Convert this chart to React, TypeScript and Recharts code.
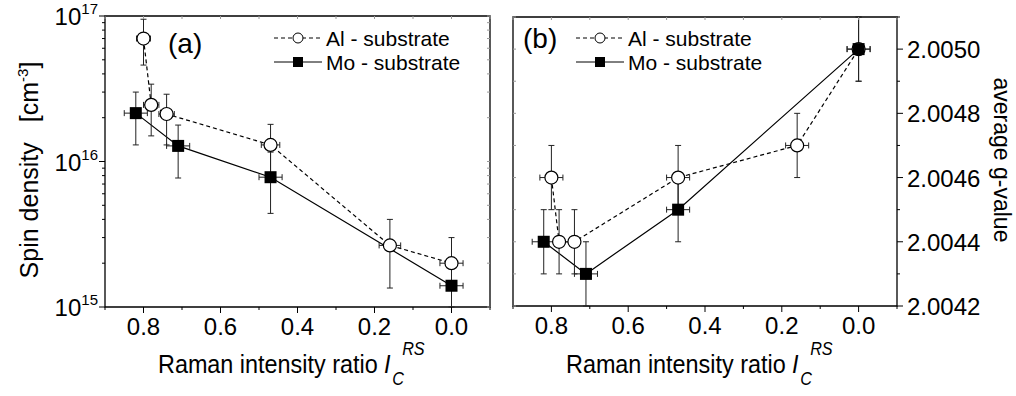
import React from "react";
import {
    ComposedChart,
    Line,
    Scatter,
    XAxis,
    YAxis,
    ErrorBar,
    ReferenceArea,
    Legend,
    Label,
} from "recharts";

// x values (Raman intensity ratio I_C^RS)
const alRatio = [0.8, 0.78, 0.74, 0.47, 0.16, 0.0];
const moRatio = [0.82, 0.71, 0.47, 0.0];
const alRatioErr = [0.018, 0.02, 0.02, 0.024, 0.028, 0.03];
const moRatioErr = [0.03, 0.03, 0.03, 0.03];
const alRatioErrG = [0.03, 0, 0, 0.03, 0.03, 0.03];

// panel (a): spin density [cm^-3]
const alSpin = [7.0e16, 2.45e16, 2.12e16, 1.3e16, 2.65e15, 2.0e15];
const alSpinLow = [4.6e16, 1.5e16, 1.3e16, 8.0e15, 1.35e15, 1.3e15];
const alSpinHigh = [9.5e16, 3.4e16, 2.9e16, 1.8e16, 4.0e15, 3.0e15];
const moSpin = [2.15e16, 1.28e16, 7.8e15, 1.4e15];
const moSpinLow = [1.3e16, 7.7e15, 4.4e15, 1.0e15];
const moSpinHigh = [3.0e16, 1.78e16, 1.16e16, 1.9e15];

// panel (b): average g-value
const alG = [2.0046, 2.0044, 2.0044, 2.0046, 2.0047, 2.005];
const alGErr = [0.0001, 0.0001, 0.0001, 0.0001, 0.0001, 0.0001];
const moG = [2.0044, 2.0043, 2.0045, 2.005];
const moGErr = [0.0001, 0.0001, 0.0001, 0.0001];

// ticks
const ratioTicks = [-0.1, 0, 0.1, 0.2, 0.3, 0.4, 0.5, 0.6, 0.7, 0.8, 0.9];
const spinTicks = [
    1e15, 2e15, 3e15, 4e15, 5e15, 6e15, 7e15, 8e15, 9e15,
    1e16, 2e16, 3e16, 4e16, 5e16, 6e16, 7e16, 8e16, 9e16, 1e17,
];
const gTicks = [2.0042, 2.0043, 2.0044, 2.0045, 2.0046, 2.0047, 2.0048, 2.0049, 2.005, 2.0051];

const seriesNames = ["Al - substrate", "Mo - substrate"];

const alSpinRows = alRatio.map((x, i) => ({
    x,
    y: alSpin[i],
    xErr: alRatioErr[i],
    yErr: [alSpin[i] - alSpinLow[i], alSpinHigh[i] - alSpin[i]],
}));
const moSpinRows = moRatio.map((x, i) => ({
    x,
    y: moSpin[i],
    xErr: moRatioErr[i],
    yErr: [moSpin[i] - moSpinLow[i], moSpinHigh[i] - moSpin[i]],
}));
const alGRows = alRatio.map((x, i) => ({ x, y: alG[i], xErr: alRatioErrG[i], yErr: alGErr[i] }));
const moGRows = moRatio.map((x, i) => ({ x, y: moG[i], xErr: moRatioErr[i], yErr: moGErr[i] }));

const FONT = "'Liberation Sans', Arial, sans-serif";

const openCircle = (p: any) => (
    <circle cx={p.cx} cy={p.cy} r={6.5} fill="#fff" stroke="#000" strokeWidth={1.2} />
);
const filledSquare = (p: any) => (
    <rect x={p.cx - 6} y={p.cy - 6} width={12} height={12} fill="#000" />
);

const makeRatioTick = (plotH: number) => (props: any) => {
    const { x, y, payload } = props;
    const v = payload.value;
    const major = Math.round(v * 10) % 2 === 0;
    return (
        <g>
            <line x1={x} y1={y} x2={x} y2={y + (major ? 6 : 3)} stroke="#000" />
            <line x1={x} y1={y - plotH} x2={x} y2={y - plotH + 3} stroke="#999" />
            {major && (
                <text x={x} y={y + 28} textAnchor="middle" fontSize={24} fill="#000" fontFamily={FONT}>
                    {v.toFixed(1)}
                </text>
            )}
        </g>
    );
};

const SpinTick = (props: any) => {
    const { x, y, payload } = props;
    const exp = Math.log10(payload.value);
    const major = Math.abs(exp - Math.round(exp)) < 1e-6;
    return (
        <g>
            <line x1={x} y1={y} x2={x - (major ? 6 : 3)} y2={y} stroke="#000" />
            <line x1={x + 385} y1={y} x2={x + 382} y2={y} stroke="#999" />
            {major && (
                <text x={x - 7} y={y + 9} textAnchor="end" fontSize={24} fill="#000" fontFamily={FONT}>
                    10
                    <tspan dy={-11} fontSize={15}>
                        {Math.round(exp)}
                    </tspan>
                </text>
            )}
        </g>
    );
};

const GTick = (props: any) => {
    const { x, y, payload } = props;
    const v = payload.value;
    const major = Math.round(v * 1e4) % 2 === 0;
    return (
        <g>
            <line x1={x} y1={y} x2={x + (major ? 6 : 3)} y2={y} stroke="#000" />
            <line x1={x - 384} y1={y} x2={x - 381} y2={y} stroke="#999" />
            {major && (
                <text x={x + 10} y={y + 9} textAnchor="start" fontSize={24} fill="#000" fontFamily={FONT}>
                    {v.toFixed(4)}
                </text>
            )}
        </g>
    );
};

const makeRatioTitle = (x0: number) => () => (
    <text
        x={x0}
        y={373}
        fontSize={26}
        fill="#000"
        fontFamily={FONT}
        transform={`translate(${x0},373) scale(0.9,1) translate(${-x0},-373)`}
    >
        Raman intensity ratio
        <tspan dx={7} fontStyle="italic">I</tspan>
        <tspan dx={2} dy={12} fontSize={18} fontStyle="italic">C</tspan>
        <tspan dx={-2} dy={-30} fontSize={18} fontStyle="italic">RS</tspan>
    </text>
);

const spinTitle = () => (
    <text
        x={38}
        y={170}
        transform="rotate(-90, 38, 170)"
        textAnchor="middle"
        fontSize={25}
        fill="#000"
        fontFamily={FONT}
    >
        Spin density
        <tspan dx={20}>[cm</tspan>
        <tspan dy={-10} fontSize={15}>-3</tspan>
        <tspan dy={10}>]</tspan>
    </text>
);

const gTitle = () => (
    <text
        x={494}
        y={160}
        transform="rotate(90, 494, 160)"
        textAnchor="middle"
        fontSize={23}
        fill="#000"
        fontFamily={FONT}
    >
        average g-value
    </text>
);

const makeLegend = (w: number, tag: string, tagX: number, tagY: number, x0: number) => () => (
    <svg width={w} height={396} style={{ position: "absolute", left: 0, top: 0, fontFamily: FONT }}>
        <text x={tagX} y={tagY} fontSize={28} fill="#000">
            {tag}
        </text>
        <line x1={x0} y1={38} x2={x0 + 48} y2={38} stroke="#000" strokeDasharray="4 3" />
        <circle cx={x0 + 24} cy={38} r={5} fill="#fff" stroke="#000" />
        <text x={x0 + 52} y={46} fontSize={21} fill="#000">
            {seriesNames[0]}
        </text>
        <line x1={x0} y1={62} x2={x0 + 48} y2={62} stroke="#000" />
        <rect x={x0 + 19} y={57} width={10} height={10} fill="#000" />
        <text x={x0 + 52} y={70} fontSize={21} fill="#000">
            {seriesNames[1]}
        </text>
    </svg>
);

export default function App() {
    return (
        <div
            style={{
                position: "absolute",
                left: 0,
                top: 0,
                width: 1016,
                height: 396,
                background: "#fff",
                fontFamily: FONT,
            }}
        >
            <div style={{ position: "absolute", left: 0, top: 0 }}>
                <ComposedChart
                    width={500}
                    height={396}
                    margin={{ top: 16, right: 10, bottom: 0, left: 0 }}
                >
                    <XAxis
                        type="number"
                        dataKey="x"
                        domain={[-0.1, 0.9]}
                        reversed
                        allowDataOverflow
                        ticks={ratioTicks}
                        interval={0}
                        tickSize={0}
                        tickMargin={0}
                        axisLine={false}
                        tickLine={false}
                        tick={makeRatioTick(291)}
                        height={89}
                    >
                        <Label content={makeRatioTitle(158)} />
                    </XAxis>
                    <YAxis
                        type="number"
                        scale="log"
                        domain={[1e15, 1e17]}
                        allowDataOverflow
                        ticks={spinTicks}
                        interval={0}
                        tickSize={0}
                        tickMargin={0}
                        axisLine={false}
                        tickLine={false}
                        tick={SpinTick}
                        width={105}
                    >
                        <Label content={spinTitle} />
                    </YAxis>
                    <ReferenceArea
                        x1={0.9}
                        x2={-0.1}
                        y1={1e15}
                        y2={1e17}
                        fill="none"
                        stroke="#000"
                        strokeWidth={1.3}
                        ifOverflow="visible"
                    />
                    <Line
                        data={alSpinRows}
                        dataKey="y"
                        type="linear"
                        stroke="#000"
                        strokeWidth={1.2}
                        strokeDasharray="4 3"
                        dot={false}
                        activeDot={false}
                        isAnimationActive={false}
                    />
                    <Line
                        data={moSpinRows}
                        dataKey="y"
                        type="linear"
                        stroke="#000"
                        strokeWidth={1.2}
                        dot={false}
                        activeDot={false}
                        isAnimationActive={false}
                    />
                    <Scatter data={alSpinRows} dataKey="y" shape={openCircle} isAnimationActive={false}>
                        <ErrorBar dataKey="yErr" direction="y" width={3} stroke="#222" strokeWidth={1} />
                        <ErrorBar dataKey="xErr" direction="x" width={3} stroke="#222" strokeWidth={1} />
                    </Scatter>
                    <Scatter data={moSpinRows} dataKey="y" shape={filledSquare} isAnimationActive={false}>
                        <ErrorBar dataKey="yErr" direction="y" width={3} stroke="#222" strokeWidth={1} />
                        <ErrorBar dataKey="xErr" direction="x" width={3} stroke="#222" strokeWidth={1} />
                    </Scatter>
                    <Legend
                        layout="vertical"
                        verticalAlign="middle"
                        align="center"
                        content={makeLegend(500, "(a)", 168, 53, 274)}
                        wrapperStyle={{ left: 0, top: 0, width: 500, height: 396, pointerEvents: "none" }}
                    />
                </ComposedChart>
            </div>
            <div style={{ position: "absolute", left: 500, top: 0 }}>
                <ComposedChart
                    width={516}
                    height={396}
                    margin={{ top: 17, right: 0, bottom: 0, left: 13 }}
                >
                    <XAxis
                        type="number"
                        dataKey="x"
                        domain={[-0.1, 0.9]}
                        reversed
                        allowDataOverflow
                        ticks={ratioTicks}
                        interval={0}
                        tickSize={0}
                        tickMargin={0}
                        axisLine={false}
                        tickLine={false}
                        tick={makeRatioTick(289)}
                        height={90}
                    >
                        <Label content={makeRatioTitle(66)} />
                    </XAxis>
                    <YAxis
                        type="number"
                        orientation="right"
                        domain={[2.0042, 2.0051]}
                        allowDataOverflow
                        ticks={gTicks}
                        interval={0}
                        tickSize={0}
                        tickMargin={0}
                        axisLine={false}
                        tickLine={false}
                        tick={GTick}
                        width={119}
                    >
                        <Label content={gTitle} />
                    </YAxis>
                    <ReferenceArea
                        x1={0.9}
                        x2={-0.1}
                        y1={2.0042}
                        y2={2.0051}
                        fill="none"
                        stroke="#000"
                        strokeWidth={1.3}
                        ifOverflow="visible"
                    />
                    <Line
                        data={alGRows}
                        dataKey="y"
                        type="linear"
                        stroke="#000"
                        strokeWidth={1.2}
                        strokeDasharray="4 3"
                        dot={false}
                        activeDot={false}
                        isAnimationActive={false}
                    />
                    <Line
                        data={moGRows}
                        dataKey="y"
                        type="linear"
                        stroke="#000"
                        strokeWidth={1.2}
                        dot={false}
                        activeDot={false}
                        isAnimationActive={false}
                    />
                    <Scatter data={alGRows} dataKey="y" shape={openCircle} isAnimationActive={false}>
                        <ErrorBar dataKey="yErr" direction="y" width={3} stroke="#222" strokeWidth={1} />
                        <ErrorBar dataKey="xErr" direction="x" width={3} stroke="#222" strokeWidth={1} />
                    </Scatter>
                    <Scatter data={moGRows} dataKey="y" shape={filledSquare} isAnimationActive={false}>
                        <ErrorBar dataKey="yErr" direction="y" width={3} stroke="#222" strokeWidth={1} />
                        <ErrorBar dataKey="xErr" direction="x" width={3} stroke="#222" strokeWidth={1} />
                    </Scatter>
                    <Legend
                        layout="vertical"
                        verticalAlign="middle"
                        align="center"
                        content={makeLegend(516, "(b)", 23, 48, 76)}
                        wrapperStyle={{ left: 0, top: 0, width: 516, height: 396, pointerEvents: "none" }}
                    />
                </ComposedChart>
            </div>
        </div>
    );
}
